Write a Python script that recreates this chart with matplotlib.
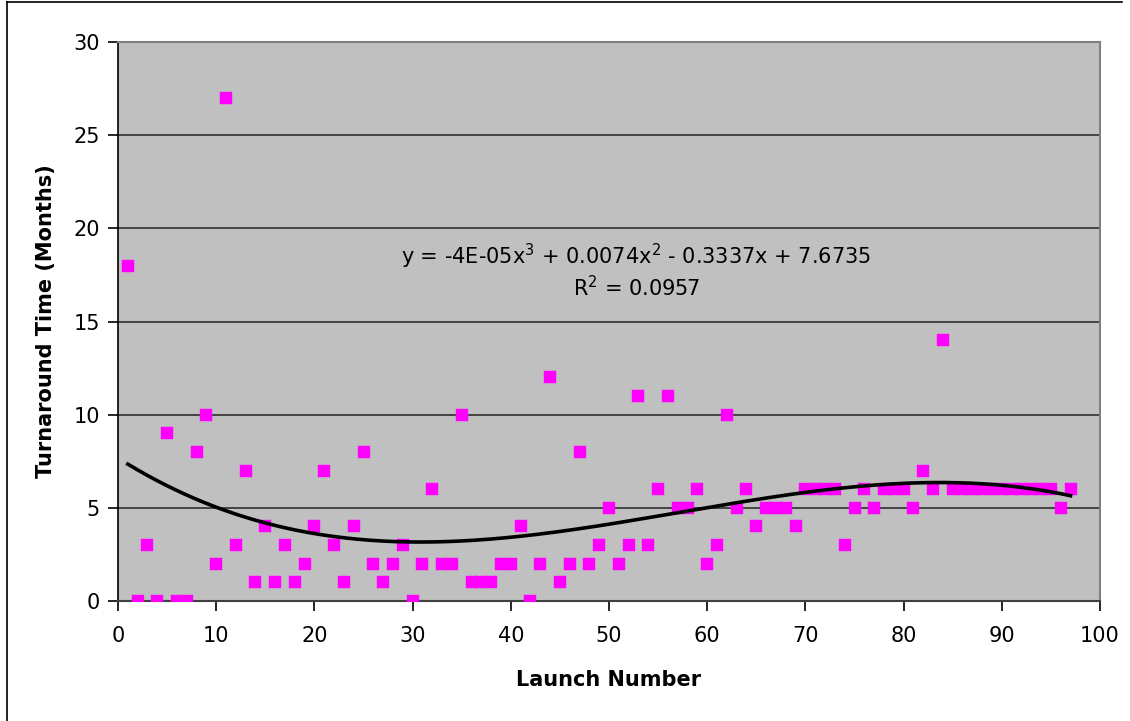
import numpy as np
import matplotlib
matplotlib.use("Agg")
import matplotlib.pyplot as plt
from matplotlib.lines import Line2D

launch = list(range(1, 98))
months = [18, 0, 3, 0, 9, 0, 0, 8, 10, 2,
          27, 3, 7, 1, 4, 1, 3, 1, 2, 4,
          7, 3, 1, 4, 8, 2, 1, 2, 3, 0,
          2, 6, 2, 2, 10, 1, 1, 1, 2, 2,
          4, 0, 2, 12, 1, 2, 8, 2, 3, 5,
          2, 3, 11, 3, 6, 11, 5, 5, 6, 2,
          3, 10, 5, 6, 4, 5, 5, 5, 4, 6,
          6, 6, 6, 3, 5, 6, 5, 6, 6, 6,
          5, 7, 6, 14, 6, 6, 6, 6, 6, 6,
          6, 6, 6, 6, 6, 5, 6]
x_ticks = list(range(0, 101, 10))
y_ticks = list(range(0, 31, 5))
eq_text = "y = -4E-05x$^3$ + 0.0074x$^2$ - 0.3337x + 7.6735"
r2_text = "R$^2$ = 0.0957"

plt.rcParams['font.family'] = ['DejaVu Sans']
plt.rcParams['mathtext.default'] = 'regular'

W, H = 1130, 721
fig = plt.figure(figsize=(W / 100, H / 100), dpi=100)
fig.patch.set_facecolor('white')
L, R, T, B = 118, 1100, 42, 601
ax = fig.add_axes([L / W, 1 - B / H, (R - L) / W, (B - T) / H])
ax.set_facecolor('#C0C0C0')

ax.set_xlim(0, 100)
ax.set_ylim(0, 30)
ax.set_xticks(x_ticks)
ax.set_yticks(y_ticks)
ax.yaxis.grid(True, color='#3a3a3a', linewidth=1.3)
ax.set_axisbelow(True)

x = np.array(launch, dtype=float)
y = np.array(months, dtype=float)
ax.plot(x, y, linestyle='none', marker='s', markersize=8,
        markerfacecolor='#FF00FF', markeredgecolor='#FF00FF',
        markeredgewidth=0.3, zorder=3)

coef = np.polyfit(x, y, 3)
xs = np.linspace(x.min(), x.max(), 300)
ax.plot(xs, np.polyval(coef, xs), color='black', linewidth=2.6, zorder=4)

ax.text(52.8, 18.5, eq_text, ha='center', va='center', fontsize=15, zorder=5)
ax.text(52.8, 16.8, r2_text, ha='center', va='center', fontsize=15, zorder=5)

for s in ['top', 'right']:
    ax.spines[s].set_color('#808080')
    ax.spines[s].set_linewidth(1.5)
ax.spines['left'].set_color('black')
ax.spines['left'].set_linewidth(1.2)
ax.spines['bottom'].set_color('#404040')
ax.spines['bottom'].set_linewidth(1.5)

ax.tick_params(axis='both', direction='out', length=7, width=1.2,
               color='black', labelsize=15, labelcolor='black')
ax.tick_params(axis='x', pad=11)
ax.tick_params(axis='y', pad=6)

ax.set_xlabel('Launch Number', fontsize=15, fontweight='bold')
ax.set_ylabel('Turnaround Time (Months)', fontsize=15, fontweight='bold')
ax.xaxis.set_label_coords(0.5, (B - 670) / (B - T))
ax.yaxis.set_label_coords((56 - L) / (R - L), 0.5)

# outer border lines
fig.add_artist(Line2D([7 / W, 7 / W], [0, 1 - 2 / H], color='black',
                      linewidth=1.2, transform=fig.transFigure))
fig.add_artist(Line2D([7 / W, 1 - 8 / W], [1 - 2 / H, 1 - 2 / H], color='black',
                      linewidth=1.2, transform=fig.transFigure))

fig.savefig('out.png', dpi=100)
